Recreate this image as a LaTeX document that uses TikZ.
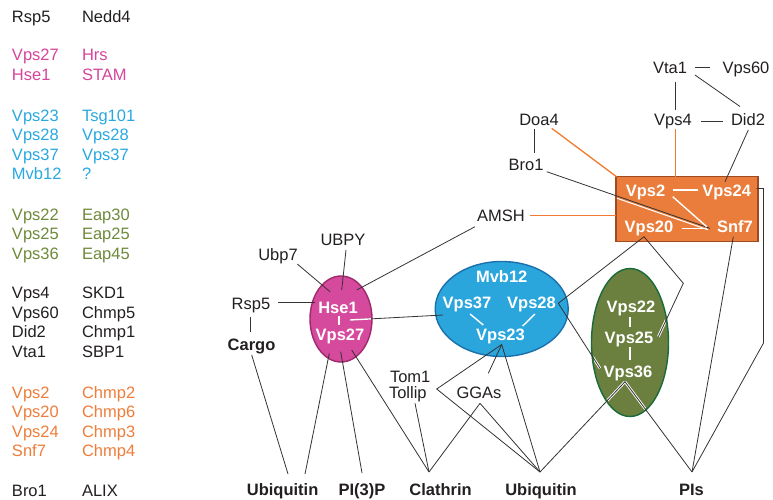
\documentclass[tikz,border=0pt]{standalone}
\usepackage{fontspec}
\setmainfont{Liberation Sans}
\usetikzlibrary{shapes.geometric}
\definecolor{dark}{HTML}{231F20}
\definecolor{lineC}{HTML}{333333}
\definecolor{pinkT}{HTML}{D6449B}
\definecolor{pinkF}{HTML}{D54A9C}
\definecolor{pinkD}{HTML}{9E2A6C}
\definecolor{blueT}{HTML}{28A8E0}
\definecolor{blueF}{HTML}{2BA6DD}
\definecolor{blueD}{HTML}{1B70AC}
\definecolor{greenT}{HTML}{6E8A3A}
\definecolor{greenF}{HTML}{6B7F3E}
\definecolor{greenD}{HTML}{1B6A3A}
\definecolor{orangeT}{HTML}{EE7D3A}
\definecolor{orangeF}{HTML}{EA7D3B}
\definecolor{orangeD}{HTML}{A04A22}
\definecolor{orangeL}{HTML}{F27A30}
\tikzset{
 txt/.style={font=\fontsize{16.5}{18}\selectfont, inner sep=0pt, outer sep=0pt, anchor=base, text=dark},
 lst/.style={txt, anchor=base west},
 bld/.style={txt, font=\fontsize{16.5}{18}\selectfont\bfseries},
 wtxt/.style={bld, text=white},
 ln/.style={draw=lineC, line width=0.8pt},
 oln/.style={draw=orangeL, line width=1.3pt},
 wln/.style={draw=white, line width=1.4pt},
 halo/.style={draw=white, line width=2.6pt},
 blob/.style={ellipse, inner sep=0pt, line width=1.4pt},
}
\begin{document}
\begin{tikzpicture}[x=1pt,y=-1pt]
\useasboundingbox (0,0) rectangle (773,500);
% ---------- left list ----------
\foreach \a/\b/\y/\c [count=\i] in {
 Rsp5/Nedd4/22.5/dark, Vps27/Hrs/61/pinkT, Hse1/STAM/80.5/pinkT,
 Vps23/Tsg101/121.5/blueT, Vps28/Vps28/140.5/blueT, Vps37/Vps37/160/blueT, Mvb12/?/179.5/blueT,
 Vps22/Eap30/220/greenT, Vps25/Eap25/239.5/greenT, Vps36/Eap45/259/greenT,
 Vps4/SKD1/298.5/dark, Vps60/Chmp5/318/dark, Did2/Chmp1/337.5/dark, Vta1/SBP1/357/dark,
 Vps2/Chmp2/398/orangeT, Vps20/Chmp6/417.5/orangeT, Vps24/Chmp3/437/orangeT, Snf7/Chmp4/456.5/orangeT,
 Bro1/ALIX/496.5/dark}{
 \node[lst, text=\c] (la\i) at (12,\y) {\a};
 \node[lst, text=\c] (lb\i) at (82,\y) {\b};
}
% ---------- complexes ----------
\node[blob, fill=pinkF, draw=pinkD, minimum width=62pt, minimum height=86pt] (escrt0) at (341,319) {};
\node[blob, fill=blueF, draw=blueD, minimum width=133pt, minimum height=95pt] (escrt1) at (501.7,309) {};
\node[blob, fill=greenF, draw=greenD, minimum width=77pt, minimum height=148pt] (escrt2) at (630,342.5) {};
\node[draw=orangeD, fill=orangeF, line width=1.5pt, minimum width=142pt, minimum height=65pt, inner sep=0pt] (escrt3) at (687.2,209.2) {};
% ---------- coordinates ----------
\coordinate (pPIs) at (692,472);
\coordinate (pUb2) at (540,472);
\coordinate (pCl) at (429,472);
\coordinate (pPI3) at (362,473);
\coordinate (pUbA) at (288,474);
\coordinate (pUbB) at (305,474);
\coordinate (v20) at (644,236.7);
\coordinate (v28) at (558.3,303.3);
\coordinate (v36in) at (600,368.3);
\coordinate (v36) at (625,381.7);
\coordinate (v25) at (658.3,336.7);
\coordinate (bend) at (683.3,283.3);
\coordinate (v23) at (501.7,344.5);
\coordinate (tomv) at (436.7,389);
\coordinate (ggt) at (488.3,373.3);
\coordinate (ggb) at (480,403.3);
\coordinate (tolb) at (415,403.3);
% halos inside green
\begin{scope}
\clip (630,342.5) ellipse [x radius=37pt, y radius=73pt];
\draw[halo] (v28) -- (v36in);
\draw[halo] (bend) -- (v25);
\draw[halo] (v36) -- (pPIs);
\draw[halo] (v36) -- (pUb2);
\end{scope}
% ---------- dark connectors ----------
\draw[ln] (695,67.5) coordinate (c1a) -- (710,67.5) coordinate (c1b);
\draw[ln] (675.5,82) coordinate (c2a) -- (675.5,110.5) coordinate (c2b);
\draw[ln] (695,75) coordinate (c3a) -- (740,106.5) coordinate (c3b);
\draw[ln] (701,121.5) coordinate (c4a) -- (723,121.5) coordinate (c4b);
\draw[ln] (534.5,129) coordinate (c5a) -- (534.5,153) coordinate (c5b);
\draw[oln] (551.7,128.3) coordinate (c6a) -- (616.5,176.7) coordinate (c6b);
\draw[oln] (675.5,129.3) coordinate (c7a) -- (675.5,176.7) coordinate (c7b);
\draw[oln] (530,215.5) coordinate (c10a) -- (616,215.5) coordinate (c10b);
\draw[ln] (748.3,130) coordinate (c8a) -- (725,181.7) coordinate (c8b);
\draw[ln] (546.7,171.7) coordinate (c9a) -- (710,228.3) coordinate (c9b);
\draw[ln] (475,226.7) coordinate (c11a) -- (356.7,290) coordinate (c11b);
\draw[ln] (756.7,188.5) coordinate (c13a) -- (763.5,188.5) -- (763.5,343) -- (pPIs);
\draw[ln] (733.3,236.7) coordinate (c14a) -- (pPIs);
\draw[ln] (v20) -- (v28) -- (v36in);
\draw[ln] (v20) -- (bend) -- (v25);
\draw[ln] (v36) -- (pPIs);
\draw[ln] (v36) -- (pUb2);
\draw[ln] (v23) -- (tomv) -- (pUb2);
\draw[ln] (v23) -- (ggt);
\draw[ln] (v23) -- (pUb2);
\draw[ln] (ggb) -- (pCl);
\draw[ln] (ggb) -- (pUb2);
\draw[ln] (tolb) -- (pCl);
\draw[ln] (351.7,350) coordinate (c23a) -- (pCl);
\draw[ln] (340.7,351.7) coordinate (c24a) -- (pPI3);
\draw[ln] (329.3,353.3) coordinate (c25a) -- (pUbB);
\draw[ln] (251.7,355) coordinate (c26a) -- (pUbA);
\draw[ln] (250.5,317) coordinate (c27a) -- (250.5,332) coordinate (c27b);
\draw[ln] (278.3,302.5) coordinate (c28a) -- (315,302.5) coordinate (c28b);
\draw[ln] (297.3,264) coordinate (c29a) -- (330,291.7) coordinate (c29b);
\draw[ln] (346,250) coordinate (c30a) -- (341.7,290) coordinate (c30b);
\draw[ln] (350,320) coordinate (c31a) -- (443,315) coordinate (c31b);
% ---------- white connectors ----------
\begin{scope}
\clip (341,319) ellipse [x radius=30pt, y radius=42pt];
\draw[wln] (c31a) -- (c31b);
\end{scope}
\begin{scope}
\clip (617,177.5) rectangle (757.5,241);
\draw[draw=white, line width=1pt] (546.7,173.9) -- (708,229.8);
\end{scope}
\draw[wln] (672.7,190) -- (698.3,190);
\draw[wln] (672.7,196.7) -- (706.7,226.7);
\draw[wln] (681.7,228.3) -- (706.7,228.3);
\draw[wln] (339,316) -- (339,325);
\draw[wln] (630,316.7) -- (630,327.3);
\draw[wln] (630,347) -- (630,360);
\draw[wln] (470,314) -- (483.3,325);
\draw[wln] (535,314) -- (522.7,326);
% ---------- labels ----------
\node[txt] (vta1) at (670,74) {Vta1};
\node[txt] (vps60) at (746,74) {Vps60};
\node[txt] (vps4) at (673,125.5) {Vps4};
\node[txt] (did2) at (748,125.5) {Did2};
\node[txt] (doa4) at (539,125.5) {Doa4};
\node[txt] (bro1) at (526,170) {Bro1};
\node[txt] (amsh) at (501,221.5) {AMSH};
\node[txt] (ubpy) at (343,245) {UBPY};
\node[txt] (ubp7) at (278,260) {Ubp7};
\node[txt] (rsp5) at (251,309) {Rsp5};
\node[bld] (cargo) at (251.5,350) {Cargo};
\node[lst] (tom1) at (390,382) {Tom1};
\node[lst] (tollip) at (389,398.5) {Tollip};
\node[txt] (ggas) at (479,398.5) {GGAs};
\node[wtxt] (vps2) at (645.5,196) {Vps2};
\node[wtxt] (vps24) at (726.7,196) {Vps24};
\node[wtxt] (vps20) at (649,232) {Vps20};
\node[wtxt] (snf7) at (735,232) {Snf7};
\node[wtxt] (hse1) at (338,313) {Hse1};
\node[wtxt] (vps27) at (340,340) {Vps27};
\node[wtxt] (mvb12) at (501.7,282) {Mvb12};
\node[wtxt] (vps37) at (467,308.5) {Vps37};
\node[wtxt] (vps28) at (531.5,308.5) {Vps28};
\node[wtxt] (vps23) at (500.5,340) {Vps23};
\node[wtxt] (vps22) at (631,312.5) {Vps22};
\node[wtxt] (vps25) at (629,343.5) {Vps25};
\node[wtxt] (vps36) at (628,377) {Vps36};
\node[bld] (ubq1) at (282.6,495) {Ubiquitin};
\node[bld] (pi3p) at (362,495) {PI(3)P};
\node[bld] (clath) at (440.5,495) {Clathrin};
\node[bld] (ubq2) at (541,495) {Ubiquitin};
\node[bld] (pis) at (691.5,495) {PIs};
\end{tikzpicture}
\end{document}
